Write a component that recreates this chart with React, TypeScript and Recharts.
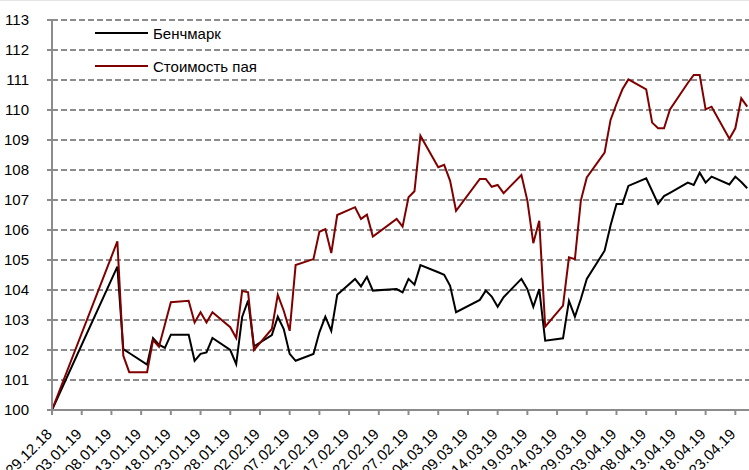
import { LineChart, Line, XAxis, YAxis, CartesianGrid } from 'recharts';

const FONT = '"Liberation Sans", Arial, sans-serif';
const GRID = '#8c8c8c';

// trading dates (dd.mm.yy)
const dates = [
  '29.12.18', '09.01.19', '10.01.19', '11.01.19', '14.01.19', '15.01.19', '16.01.19', '17.01.19', '18.01.19',
  '21.01.19', '22.01.19', '23.01.19', '24.01.19', '25.01.19', '28.01.19', '29.01.19', '30.01.19', '31.01.19',
  '01.02.19', '04.02.19', '05.02.19', '06.02.19', '07.02.19', '08.02.19', '11.02.19', '12.02.19', '13.02.19',
  '14.02.19', '15.02.19', '18.02.19', '19.02.19', '20.02.19', '21.02.19', '25.02.19', '26.02.19', '27.02.19',
  '28.02.19', '01.03.19', '04.03.19', '05.03.19', '06.03.19', '07.03.19', '11.03.19', '12.03.19', '13.03.19',
  '14.03.19', '15.03.19', '18.03.19', '19.03.19', '20.03.19', '21.03.19', '22.03.19', '25.03.19', '26.03.19',
  '27.03.19', '28.03.19', '29.03.19', '01.04.19', '02.04.19', '03.04.19', '04.04.19', '05.04.19', '08.04.19',
  '09.04.19', '10.04.19', '11.04.19', '12.04.19', '15.04.19', '16.04.19', '17.04.19', '18.04.19', '19.04.19',
  '22.04.19', '23.04.19', '24.04.19', '25.04.19',
];

const benchmark = [
  100, 104.78, 102.03, 101.9, 101.51, 102.4, 102.18, 102.07, 102.51,
  102.51, 101.64, 101.87, 101.92, 102.4, 102.0, 101.53, 103.1, 103.65,
  102.12, 102.5, 103.11, 102.7, 101.87, 101.64, 101.87, 102.59, 103.11,
  102.64, 103.84, 104.37, 104.12, 104.44, 103.98, 104.03, 103.92, 104.37,
  104.18, 104.83, 104.59, 104.51, 104.14, 103.26, 103.67, 103.98, 103.78,
  103.44, 103.76, 104.37, 104.03, 103.44, 104.03, 102.31, 102.39, 103.64,
  103.11, 103.7, 104.37, 105.31, 106.15, 106.87, 106.87, 107.47, 107.72,
  107.3, 106.87, 107.13, 107.24, 107.58, 107.5, 107.91, 107.58, 107.78,
  107.52, 107.78, 107.6, 107.39,
];

const fund = [
  100, 105.62, 101.81, 101.26, 101.26, 102.33, 102.11, 102.85, 103.59,
  103.64, 102.92, 103.26, 102.92, 103.26, 102.76, 102.4, 103.97, 103.92,
  102.0, 102.7, 103.84, 103.31, 102.64, 104.83, 105.03, 105.94, 106.03,
  105.23, 106.5, 106.76, 106.37, 106.51, 105.78, 106.37, 106.11, 107.09,
  107.29, 109.14, 108.09, 108.17, 107.64, 106.64, 107.7, 107.7, 107.44,
  107.5, 107.23, 107.83, 106.98, 105.56, 106.31, 102.78, 103.48, 105.09,
  105.03, 106.98, 107.75, 108.58, 109.67, 110.2, 110.69, 111.02, 110.69,
  109.58, 109.39, 109.39, 110.02, 110.9, 111.17, 111.17, 110.02, 110.11,
  109.04, 109.39, 110.39, 110.11,
];

const tickLabels = [
  '29.12.18', '03.01.19', '08.01.19', '13.01.19', '18.01.19', '23.01.19', '28.01.19', '02.02.19',
  '07.02.19', '12.02.19', '17.02.19', '22.02.19', '27.02.19', '04.03.19', '09.03.19', '14.03.19',
  '19.03.19', '24.03.19', '29.03.19', '03.04.19', '08.04.19', '13.04.19', '18.04.19', '23.04.19',
];

const yTicks = [100, 101, 102, 103, 104, 105, 106, 107, 108, 109, 110, 111, 112, 113];

// days since the first date, so the x axis is a real time scale
const toDay = (s: string) => {
  const [d, m, y] = s.split('.').map(Number);
  return Math.round((Date.UTC(2000 + y, m - 1, d) - Date.UTC(2018, 11, 29)) / 86400000);
};

const data = dates.map((d, i) => ({ day: toDay(d), date: d, bench: benchmark[i], fund: fund[i] }));
const tickDays = tickLabels.map(toDay);
const labelByDay: Record<number, string> = {};
tickLabels.forEach(l => { labelByDay[toDay(l)] = l; });

function DateTick(props: any) {
  const { x, y, payload } = props;
  const px = x + 1;
  const py = y + 20;
  return (
    <text x={px} y={py} textAnchor="end" fontSize={15} fontFamily={FONT} fill="#000"
      transform={`rotate(-45 ${px} ${py})`}>
      {labelByDay[payload.value]}
    </text>
  );
}

export default function App() {
  return (
    <div style={{ position: 'absolute', left: 0, top: 0, width: 749, height: 470, background: '#fff' }}>
      <div style={{ position: 'absolute', left: 0, top: 0, width: 749, height: 1, background: '#e4e4e4' }} />
      <LineChart width={749} height={470} data={data} margin={{ top: 20, right: 0, left: 0, bottom: 0 }}>
        <CartesianGrid vertical={false} stroke={GRID} strokeWidth={2} strokeDasharray="6 3" />
        <XAxis
          type="number" dataKey="day" domain={[0, 117.3]} allowDataOverflow
          ticks={tickDays} interval={0} height={60}
          tickSize={5} tickMargin={0} tick={<DateTick />}
          axisLine={{ stroke: GRID, strokeWidth: 2 }} tickLine={{ stroke: GRID, strokeWidth: 2 }}
        />
        <YAxis
          domain={[100, 113]} ticks={yTicks} interval={0} width={52}
          tickSize={5} tickMargin={18}
          tick={{ fontSize: 15, fontFamily: FONT, fill: '#000' }}
          axisLine={{ stroke: GRID, strokeWidth: 2 }} tickLine={{ stroke: GRID, strokeWidth: 2 }}
        />
        <Line type="linear" dataKey="bench" name="Бенчмарк" stroke="#000" strokeWidth={2} dot={false} isAnimationActive={false} />
        <Line type="linear" dataKey="fund" name="Стоимость пая" stroke="#800000" strokeWidth={2} dot={false} isAnimationActive={false} />
      </LineChart>
      <div style={{ position: 'absolute', left: 95, top: 22, fontFamily: FONT, fontSize: 15, color: '#000' }}>
        <div style={{ display: 'flex', alignItems: 'center', height: 22 }}>
          <span style={{ width: 53, borderTop: '2px solid #000' }} />
          <span style={{ marginLeft: 5 }}>Бенчмарк</span>
        </div>
        <div style={{ display: 'flex', alignItems: 'center', height: 22, marginTop: 11 }}>
          <span style={{ width: 53, borderTop: '2px solid #800000' }} />
          <span style={{ marginLeft: 5 }}>Стоимость пая</span>
        </div>
      </div>
    </div>
  );
}
